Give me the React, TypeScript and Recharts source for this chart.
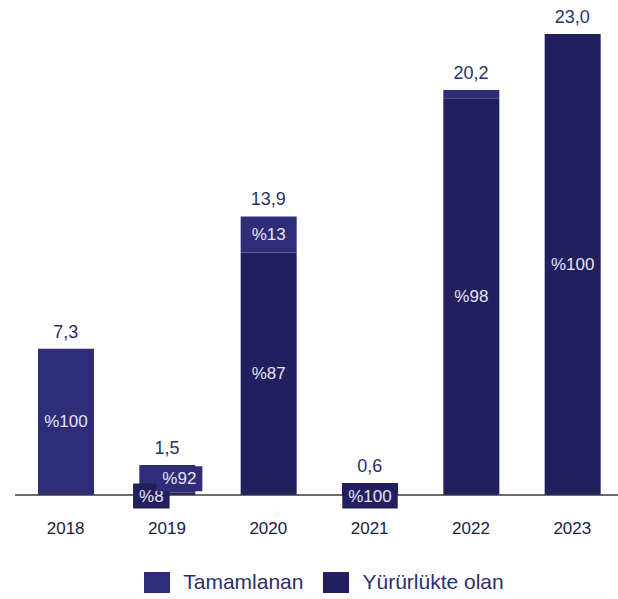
import React from 'react';
import { ComposedChart, Bar, Line, XAxis, YAxis, Legend, LabelList } from 'recharts';

const years = ['2018', '2019', '2020', '2021', '2022', '2023'];
const totals = [7.3, 1.5, 13.9, 0.6, 20.2, 23.0];
const totalLabels = ['7,3', '1,5', '13,9', '0,6', '20,2', '23,0'];
// share of each year's total, in percent
const inForcePct = [0, 8, 87, 100, 98, 100];
const completedPct = [100, 92, 13, 0, 2, 0];
const inForceLabels = ['', '%8', '%87', '%100', '%98', '%100'];
const completedLabels = ['%100', '%92', '%13', '', '', ''];

const COMPLETED = '#2f2c78';
const IN_FORCE = '#221f5e';
const TEXT = '#2b2f6c';
const FONT = '"Liberation Sans", Arial, sans-serif';

const data = years.map((year, i) => ({
  year,
  idx: i,
  total: totals[i],
  inForce: (totals[i] * inForcePct[i]) / 100,
  completed: (totals[i] * completedPct[i]) / 100,
}));

const textWidth = (s: string, fs: number) =>
  s.split('').reduce((w, c) => w + (c === '%' ? 0.889 : 0.556), 0) * fs;

const segmentLabel = (labels: string[], series: 'inForce' | 'completed') => (props: any) => {
  const { x, y, width, height, value } = props;
  const i = Number(value);
  const text = labels[i];
  if (!text) return null;
  const cx = x + width / 2;
  const cy = y + height / 2;
  if (height >= 30) {
    return (
      <text x={cx} y={cy} textAnchor="middle" dominantBaseline="central" fill="#e4e4f4" fontSize={17} fontFamily={FONT}>
        {text}
      </text>
    );
  }
  // small segments get a boxed label
  const split = !!(inForceLabels[i] && completedLabels[i]);
  let bx = cx;
  let by = cy;
  if (series === 'inForce') {
    by = y + height + 1;
    if (split) bx = cx - 16;
  } else if (split) {
    bx = cx + 12;
  }
  const w = textWidth(text, 17) + 12;
  const h = 25;
  return (
    <g>
      <rect x={bx - w / 2} y={by - h / 2} width={w} height={h} fill={series === 'inForce' ? IN_FORCE : COMPLETED} />
      <text x={bx} y={by} textAnchor="middle" dominantBaseline="central" fill="#e4e4f4" fontSize={17} fontFamily={FONT}>
        {text}
      </text>
    </g>
  );
};

const totalLabel = (props: any) => {
  const { x, y, value } = props;
  return (
    <text x={x} y={y - 11} textAnchor="middle" fill={TEXT} fontSize={18} fontFamily={FONT}>
      {totalLabels[Number(value)]}
    </text>
  );
};

const LegendContent = () => {
  const items = [
    { name: 'Tamamlanan', color: COMPLETED },
    { name: 'Yürürlükte olan', color: IN_FORCE },
  ];
  return (
    <div style={{ display: 'flex', justifyContent: 'center', alignItems: 'center', height: 30, paddingLeft: 30, fontFamily: FONT }}>
      {items.map((it) => (
        <div key={it.name} style={{ display: 'flex', alignItems: 'center', marginRight: 20 }}>
          <div style={{ width: 26, height: 21, background: it.color, marginRight: 13 }} />
          <span style={{ fontSize: 21, color: TEXT }}>{it.name}</span>
        </div>
      ))}
    </div>
  );
};

export default function App() {
  return (
    <div style={{ position: 'absolute', left: 0, top: 0, width: 618, height: 599, overflow: 'hidden', background: '#fff', fontFamily: FONT }}>
      <ComposedChart width={623} height={599} data={data} margin={{ top: 34, right: 0, left: 15, bottom: 2 }} barSize={56}>
        <XAxis
          dataKey="year"
          height={72}
          tickLine={false}
          tickMargin={21}
          axisLine={{ stroke: '#3a3a3a', strokeWidth: 1.5 }}
          tick={{ fill: '#1c1c3c', fontSize: 17, fontFamily: FONT }}
        />
        <YAxis hide domain={[0, 23]} />
        <Legend verticalAlign="bottom" height={30} content={<LegendContent />} />
        <Bar dataKey="inForce" name="Yürürlükte olan" stackId="a" fill={IN_FORCE} isAnimationActive={false}>
          <LabelList dataKey="idx" content={segmentLabel(inForceLabels, 'inForce')} />
        </Bar>
        <Bar dataKey="completed" name="Tamamlanan" stackId="a" fill={COMPLETED} isAnimationActive={false}>
          <LabelList dataKey="idx" content={segmentLabel(completedLabels, 'completed')} />
        </Bar>
        <Line dataKey="total" stroke="none" dot={false} legendType="none" isAnimationActive={false}>
          <LabelList dataKey="idx" content={totalLabel} />
        </Line>
      </ComposedChart>
    </div>
  );
}
